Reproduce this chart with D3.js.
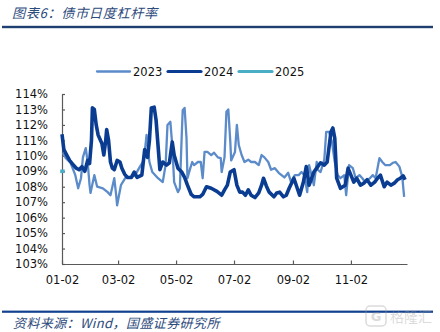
<!DOCTYPE html>
<html><head><meta charset="utf-8">
<script src="https://cdn.jsdelivr.net/npm/d3@7"></script>
<style>
html,body{margin:0;padding:0;background:#fff;}
svg{display:block;}
</style></head>
<body>
<svg id="chart" width="440" height="332"></svg>
<script>
// ---- data ----
const titleText = "图表6：债市日度杠杆率";
const sourceText = "资料来源：Wind，国盛证券研究所";
const seriesNames = ["2023", "2024", "2025"];
const yTicks = [103,104,105,106,107,108,109,110,111,112,113,114];
const xTickLabels = ["01-02","03-02","05-02","07-02","09-02","11-02"];

const dates2023 = ["01-03","01-06","01-11","01-16","01-19","01-22","01-24","01-27","01-29","01-31","02-01","02-05","02-08","02-14","02-19","02-22","02-26","02-28","03-01","03-05","03-10","03-15","03-20","03-25","03-28","03-30","04-01","04-04","04-07","04-13","04-18","04-21","04-23","04-26","04-28","04-30","05-04","05-06","05-08","05-09","05-11","05-13","05-14","05-17","05-19","05-21","05-25","05-28","05-30","06-01","06-04","06-08","06-11","06-15","06-18","06-19","06-22","06-24","06-26","06-28","06-29","07-03","07-05","07-07","07-10","07-13","07-17","07-20","07-24","07-28","07-31","08-03","08-07","08-10","08-14","08-18","08-21","08-24","08-28","08-31","09-04","09-08","09-11","09-14","09-17","09-19","09-24","09-27","09-28","10-01","10-05","10-07","10-10","10-13","10-16","10-19","10-22","10-26","10-28","10-31","11-04","11-07","11-11","11-14","11-17","11-22","11-25","11-28","12-02","12-05","12-08","12-13","12-16","12-19","12-23","12-26","12-28"];
const values2023 = [110.2,109.85,109.55,108.75,107.9,108.55,109.9,110.5,109.6,108.1,107.6,108.75,108.0,107.9,107.65,107.45,108.55,107.45,106.8,108.1,108.6,108.6,108.75,109.3,109.6,110.2,111.35,109.6,108.95,108.55,108.3,109.4,112.0,112.2,110.7,108.3,107.65,107.9,111.35,112.95,113.1,111.15,108.55,109.2,109.6,109.4,109.6,109.6,108.55,110.25,110.25,110.05,110.2,109.9,109.85,108.95,109.9,112.85,113.0,111.0,109.7,110.25,112.0,110.7,110.05,109.6,109.75,109.6,109.6,109.4,110.05,109.9,109.6,109.1,109.2,108.9,108.75,108.6,108.9,108.3,108.75,108.75,108.95,108.75,107.65,109.4,108.1,109.6,109.1,108.95,109.75,111.55,111.55,110.9,109.6,108.75,108.55,108.75,107.45,109.4,109.2,108.55,108.75,108.55,108.3,108.55,108.75,108.55,109.85,109.6,109.4,109.4,109.55,109.6,109.3,108.65,107.35];

const dates2024 = ["01-02","01-04","01-07","01-10","01-14","01-17","01-20","01-23","01-26","01-29","01-31","02-02","02-03","02-05","02-07","02-09","02-13","02-15","02-17","02-18","02-20","02-22","02-24","02-26","03-01","03-04","03-06","03-09","03-12","03-16","03-19","03-22","03-27","03-30","04-02","04-04","04-06","04-09","04-11","04-13","04-15","04-18","04-22","04-25","04-28","04-30","05-04","05-08","05-11","05-14","05-18","05-21","05-27","05-30","06-03","06-08","06-14","06-19","06-22","06-25","06-28","07-02","07-05","07-08","07-11","07-14","07-17","07-20","07-24","07-28","07-31","08-02","08-05","08-08","08-13","08-16","08-19","08-23","08-26","08-29","09-03","09-06","09-09","09-13","09-16","09-19","09-24","09-27","10-01","10-05","10-08","10-12","10-14","10-16","10-18","10-22","10-27","10-30","11-02","11-05","11-08","11-12","11-16","11-19","11-23","11-27","11-30","12-03","12-07","12-10","12-14","12-18","12-21","12-24","12-27","12-29"];
const values2024 = [111.4,110.4,110.05,109.7,109.4,109.2,109.1,109.3,109.0,109.7,109.5,111.0,113.1,113.0,112.0,111.35,110.8,110.05,111.0,111.7,111.0,109.6,109.2,109.1,109.7,109.6,109.2,108.8,108.6,108.6,108.95,108.6,108.75,110.4,109.9,111.0,113.1,113.15,112.3,110.7,109.1,109.6,109.4,109.55,110.9,110.05,109.2,108.95,108.6,108.1,107.5,107.35,107.35,107.5,108.0,107.9,107.7,107.45,107.8,108.1,108.95,109.1,108.1,107.65,107.65,107.45,107.8,107.45,107.3,107.6,108.1,108.55,108.05,107.65,107.35,107.6,107.65,107.35,107.45,107.9,108.55,108.0,107.45,108.3,109.3,108.1,108.95,109.2,109.55,109.4,109.6,111.55,111.8,111.15,108.55,107.9,108.1,109.2,108.75,108.3,108.55,108.1,108.25,108.45,108.1,108.3,108.55,108.75,108.0,108.3,108.1,108.25,108.45,108.55,108.7,108.45];

const dates2025 = ["01-02","01-03"];
const values2025 = [109.0, 109.0];

// ---- build ----
const parse = md => d3.timeParse("%Y-%m-%d")("2023-" + md);
const toPts = (ds, vs) => ds.map((d, i) => ({ date: parse(d), value: vs[i] }));
const series = [
  { name: seriesNames[0], pts: toPts(dates2023, values2023), color: "#5b8bc9", width: 2.3, cap: "butt" },
  { name: seriesNames[1], pts: toPts(dates2024, values2024), color: "#0a3d91", width: 3.6, cap: "butt" },
  { name: seriesNames[2], pts: toPts(dates2025, values2025), color: "#4bacc6", width: 3.6, cap: "square" }
];

const svg = d3.select("#chart");
const fontLatin = "'DejaVu Sans', Verdana, sans-serif";
const fontCJK = "'Noto Sans CJK SC', sans-serif";

const x = d3.scaleTime().domain([parse("01-02"), parse("12-31")]).range([62, 407]);
const y = d3.scaleLinear().domain([103, 114]).range([264, 94]);

// title
svg.append("text").attr("x", 12).attr("y", 17.5)
  .attr("font-family", fontCJK).attr("font-size", 13.2).attr("font-style", "italic")
  .attr("letter-spacing", 0.6)
  .attr("fill", "#2d4a7c").text(titleText);
svg.append("rect").attr("x", 2).attr("y", 25.8).attr("width", 431).attr("height", 2.4).attr("fill", "#1f3f70");

// footer
svg.append("rect").attr("x", 2).attr("y", 310.6).attr("width", 431).attr("height", 2.2).attr("fill", "#12428f");
svg.append("text").attr("x", 13).attr("y", 328)
  .attr("font-family", fontCJK).attr("font-size", 13).attr("font-style", "italic")
  .attr("letter-spacing", 0.4)
  .attr("fill", "#2d4a7c").text(sourceText);

// watermark
const wm = svg.append("g").attr("opacity", 0.35);
wm.append("rect").attr("x", 366).attr("y", 306).attr("width", 20).attr("height", 20).attr("rx", 4)
  .attr("fill", "none").attr("stroke", "#9a9a9a").attr("stroke-width", 1.5);
wm.append("text").attr("x", 376).attr("y", 321).attr("text-anchor", "middle")
  .attr("font-family", fontLatin).attr("font-size", 13).attr("font-weight", "bold").attr("fill", "#9a9a9a").text("G");
wm.append("text").attr("x", 390).attr("y", 322)
  .attr("font-family", fontCJK).attr("font-size", 14).attr("fill", "#9a9a9a").text("格隆汇");

// axes
const yAxis = d3.axisLeft(y).tickValues(yTicks).tickSizeInner(-3).tickSizeOuter(0).tickPadding(14)
  .tickFormat(d => d + "%");
const gy = svg.append("g").attr("transform", "translate(62,0)").call(yAxis);
const xAxis = d3.axisBottom(x).tickValues(xTickLabels.map(parse)).tickSizeInner(-3.5).tickSizeOuter(0)
  .tickPadding(12).tickFormat(d3.timeFormat("%m-%d"));
const gx = svg.append("g").attr("transform", "translate(0,264)").call(xAxis);
[gx, gy].forEach(g => {
  g.select(".domain").attr("stroke", "#595959").attr("stroke-width", 1.2);
  g.selectAll(".tick line").attr("stroke", "#595959").attr("stroke-width", 1.2);
  g.selectAll("text").attr("font-family", fontLatin).attr("font-size", 11.5).attr("fill", "#111");
});

// lines
const line = d3.line().x(d => x(d.date)).y(d => y(d.value));
series.forEach(s => {
  svg.append("path").datum(s.pts).attr("d", line)
    .attr("fill", "none").attr("stroke", s.color).attr("stroke-width", s.width)
    .attr("stroke-linejoin", "round").attr("stroke-linecap", s.cap);
});

// legend
const legendPos = [{ lx: 97, tx: 133 }, { lx: 168, tx: 204 }, { lx: 239, tx: 275 }];
const legendW = [2.3, 3.2, 3.2];
series.forEach((s, i) => {
  const p = legendPos[i];
  svg.append("line").attr("x1", p.lx).attr("x2", p.lx + 33).attr("y1", 71.5).attr("y2", 71.5)
    .attr("stroke", s.color).attr("stroke-width", legendW[i]).attr("stroke-linecap", "round");
  svg.append("text").attr("x", p.tx).attr("y", 75.6)
    .attr("font-family", fontLatin).attr("font-size", 11.5).attr("fill", "#111").text(s.name);
});
</script>
</body></html>
